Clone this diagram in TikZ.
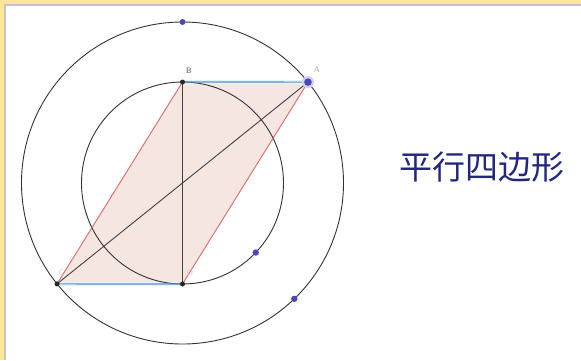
\documentclass[tikz,border=0pt]{standalone}
\usepackage{fontspec}
\newfontfamily\cjk{Noto Sans CJK SC}
\usetikzlibrary{calc}
\definecolor{frameyellow}{HTML}{FDE59C}
\definecolor{framegray}{HTML}{C4C4C4}
\definecolor{areafill}{HTML}{F6E6E1}
\definecolor{sidered}{HTML}{D97474}
\definecolor{sideblue}{HTML}{6A8BC0}
\definecolor{ptblue}{HTML}{4A48B8}
\definecolor{titlenavy}{HTML}{22287E}

\begin{document}
\begin{tikzpicture}[x=1pt,y=1pt,
  circ/.style={draw=black!80,line width=0.9pt},
  redside/.style={draw=sidered,line width=1pt},
  blueside/.style={draw=sideblue,line width=1.2pt},
  glow/.style={draw=cyan!12,line width=4.5pt},
  diag/.style={draw=black!75,line width=0.9pt},
  lbl/.style={font=\fontsize{8}{8}\selectfont\sffamily,inner sep=0pt}]
\useasboundingbox (0,0) rectangle (581,360);
% frame
\fill[frameyellow] (0,0) rectangle (4,360);
\fill[frameyellow] (0,356) rectangle (581,360);
\draw[framegray,line width=2.4pt] (5.2,0)--(5.2,354.8)--(581,354.8);
% points
\coordinate (O) at (182.5,177);
\coordinate (B) at ($(O)+(90:101)$);
\coordinate (D) at ($(O)+(-90:101)$);
\coordinate (A) at ($(O)+(38.8:161)$);
\coordinate (C) at ($(O)+(218.8:161)$);
\coordinate (P) at ($(O)+(90:161)$);
\coordinate (Q) at ($(O)+(-43.5:101)$);
\coordinate (R) at ($(O)+(-46:161)$);
% parallelogram
\fill[areafill] (C)--(B)--(A)--(D)--cycle;
\draw[glow] (B)--(A);
\draw[glow] (C)--(D);
\draw[circ] (O) circle(161);
\draw[circ] (O) circle(101);
\draw[redside] (C)--(B);
\draw[redside] (D)--(A);
\draw[blueside] (B)--(A);
\draw[blueside] (C)--(D);
\draw[diag] (B)--(D);
\draw[diag] (C)--(A);
% dots
\fill[black!85] (B) circle(2.5);
\fill[black!85] (C) circle(2.5);
\fill[black!85] (D) circle(2.5);
\fill[ptblue!25] (A) circle(6);
\fill[ptblue] (A) circle(3.8);
\fill[ptblue] (P) circle(3);
\fill[ptblue] (Q) circle(3.2);
\fill[ptblue] (R) circle(3.2);
% labels
\node[lbl,text=black!65] (labB) at (189,289) {B};
\node[lbl,text=black!35] (labA) at (317,290) {A};
\node[lbl,text=sidered!45] (labC) at (61,87) {C};
\node[lbl,text=sidered!45] (labD) at (190,87) {D};
\node[text=titlenavy,inner sep=0pt] (title) at (482,193) {\cjk\fontsize{33}{33}\selectfont 平行四边形};
\end{tikzpicture}
\end{document}
